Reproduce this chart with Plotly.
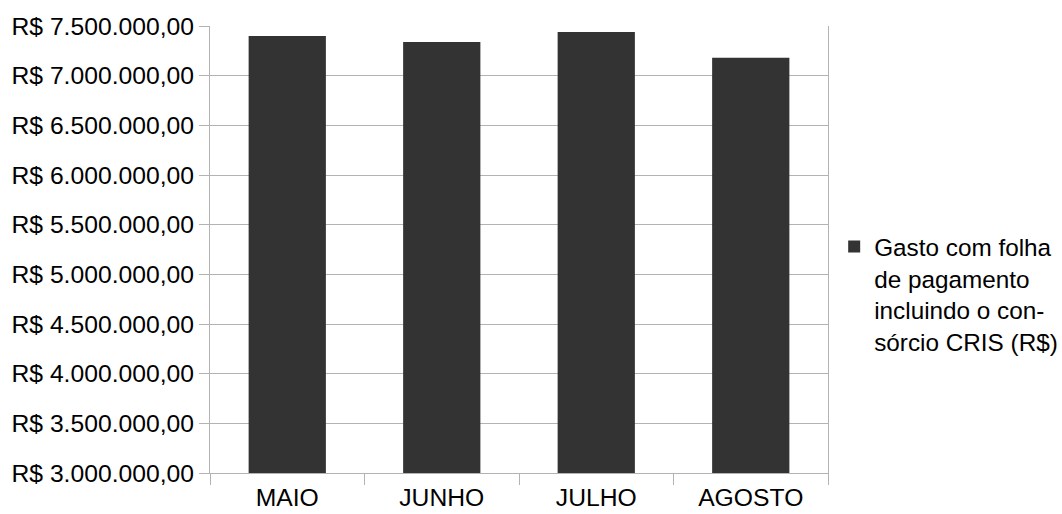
import plotly.graph_objects as go

categories = ["MAIO", "JUNHO", "JULHO", "AGOSTO"]
values = [7400000, 7340000, 7440000, 7180000]
series_name = "Gasto com folha<br>de pagamento<br>incluindo o con-<br>sórcio CRIS (R$)"

FONT = "Liberation Sans, Arial, sans-serif"
GRID = "#b3b3b3"
FS = 24.7

fig = go.Figure()
fig.add_trace(go.Bar(
    x=categories, y=values, name=series_name,
    marker=dict(color="#333333", line=dict(width=0)),
    showlegend=True,
))

fig.update_layout(
    width=1062, height=514,
    margin=dict(l=210, r=234, t=26, b=41, autoexpand=False),
    paper_bgcolor="white", plot_bgcolor="white",
    separators=",.",
    bargap=0.5,
    font=dict(family=FONT, size=FS, color="#000000"),
    legend=dict(
        x=1.01, xanchor="left", y=0.40, yanchor="middle",
        valign="top", font=dict(size=24.3, color="#000000"),
        bgcolor="rgba(0,0,0,0)", tracegroupgap=0, itemwidth=30,
    ),
    xaxis=dict(
        showgrid=False, showline=True, linecolor=GRID, linewidth=1,
        ticks="outside", ticklen=11, tickcolor=GRID, tickson="boundaries",
        tickfont=dict(size=FS, color="#000000"), automargin=False,
        ticklabelstandoff=2,
    ),
    yaxis=dict(
        range=[3000000, 7500000], dtick=500000, tick0=0,
        tickformat=",.2f", tickprefix="R$ ",
        showgrid=True, gridcolor=GRID, gridwidth=1,
        showline=True, linecolor=GRID, linewidth=1, mirror=True,
        ticks="outside", ticklen=10, tickcolor=GRID,
        tickfont=dict(size=FS, color="#000000"), automargin=False,
        zeroline=False,
    ),
)

fig.write_html("out.html")
